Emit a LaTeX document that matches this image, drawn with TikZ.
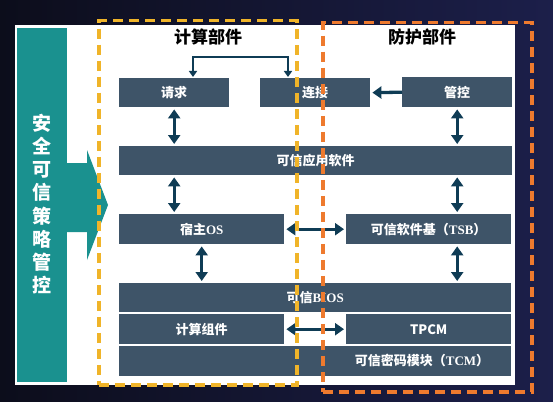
\documentclass[tikz,border=0pt]{standalone}
\usepackage{fontspec}
\setmainfont{Noto Sans CJK SC}
\newfontfamily\serifl{Liberation Serif}
\usetikzlibrary{arrows.meta}
\definecolor{slate}{HTML}{3E5468}
\definecolor{tealbar}{HTML}{1A918F}
\definecolor{arrc}{HTML}{0F3C55}
\definecolor{ylw}{HTML}{F0B429}
\definecolor{org}{HTML}{EE7A2E}
\definecolor{bgl}{HTML}{0C0D1B}
\definecolor{bgr}{HTML}{1C1F4A}
\begin{document}
\begin{tikzpicture}[x=1pt,y=-1pt,
  box/.style={fill=slate, inner sep=0pt, text=white, anchor=north west,
    font=\bfseries\fontsize{13}{13}\selectfont},
  boxtext/.style={inner sep=0pt, text=white, font=\bfseries\fontsize{13}{13}\selectfont},
  title/.style={inner sep=0pt, text=black, font=\bfseries\fontsize{17}{17}\selectfont},
  dbl/.style={draw=arrc, line width=3.3pt, {Triangle[length=9pt,width=12pt]}-{Triangle[length=9pt,width=12pt]}, shorten <=2pt, shorten >=2pt},
  sgl/.style={draw=arrc, line width=3.3pt, -{Triangle[length=9pt,width=12pt]}, shorten >=2pt},
  conn/.style={draw=arrc, line width=2.2pt, {Triangle[length=6pt,width=8pt]}-{Triangle[length=6pt,width=8pt]}, shorten <=1pt, shorten >=1pt},
  dashbox/.style={line width=3.5pt, dash pattern=on 10pt off 6pt, inner sep=0pt, anchor=north west}]
\useasboundingbox (0,0) rectangle (553,401);
% background
\shade[left color=bgl, right color=bgr] (0,0) rectangle (553,401);
% white panel
\fill[white] (15,25) rectangle (515,385);
% teal bar with arrow
\fill[tealbar] (17,28) rectangle (67,382);
\fill[tealbar] (66,163) -- (87,163) -- (87,150) -- (108,205) -- (87,260) -- (87,232) -- (66,232) -- cycle;
\node[inner sep=0pt, text=white, align=center, font=\bfseries\fontsize{19}{23.2}\selectfont] (policy) at (42,204) {安\\全\\可\\信\\策\\略\\管\\控};
% titles
\node[title] (t1) at (208,37) {计算部件};
\node[title] (t2) at (422,37) {防护部件};
% boxes
\node[box, minimum width=110, minimum height=29] (qq) at (119,78) {请求};
\node[box, minimum width=110, minimum height=29] (lj) at (260,78) {连接};
\node[box, minimum width=110, minimum height=30] (gk) at (402,77) {管控};
\node[box, minimum width=393, minimum height=29] (app) at (119,146) {可信应用软件};
\node[box, minimum width=165, minimum height=30] (os) at (119,214) {宿主{\serifl OS}};
\node[box, minimum width=165, minimum height=30] (tsb) at (346,214) {可信软件基（{\serifl TSB}）};
\node[box, minimum width=392, minimum height=29] (bios) at (119,283) {可信{\serifl BIOS}};
\node[box, minimum width=165, minimum height=30] (calc) at (119,314) {计算组件};
\node[box, minimum width=165, minimum height=30] (tpcm) at (346,314) {TPCM};
\node[box, minimum width=392, minimum height=30] (tcm) at (119,346) {};
\node[boxtext] (tcmt) at (422,361) {可信密码模块（{\serifl TCM}）};
% arrows left column
\draw[dbl] (qq.south) -- (qq.south |- app.north);
\draw[dbl] (qq.south |- app.south) -- (qq.south |- os.north);
\draw[dbl] (os.south) -- (os.south |- bios.north);
% arrows right column
\draw[dbl] (gk.south) -- (gk.south |- app.north);
\draw[dbl] (gk.south |- app.south) -- (gk.south |- tsb.north);
\draw[dbl] (gk.south |- tsb.south) -- (gk.south |- bios.north);
% horizontal arrows
\draw[dbl] (os.east) -- (tsb.west);
\draw[dbl] (calc.east) -- (tpcm.west);
\draw[sgl] (gk.west) -- (lj.east);
% top connector
\coordinate (c1) at (193,57);
\coordinate (c2) at (288,57);
\draw[conn] (qq.north -| c1) -- (c1) -- (c2) -- (lj.north -| c2);
% dashed boxes
\node[dashbox, draw=ylw, minimum width=198, minimum height=364] (ybox) at (97,19) {};
\node[dashbox, draw=org, minimum width=209, minimum height=369] (obox) at (321,21) {};
\end{tikzpicture}
\end{document}
